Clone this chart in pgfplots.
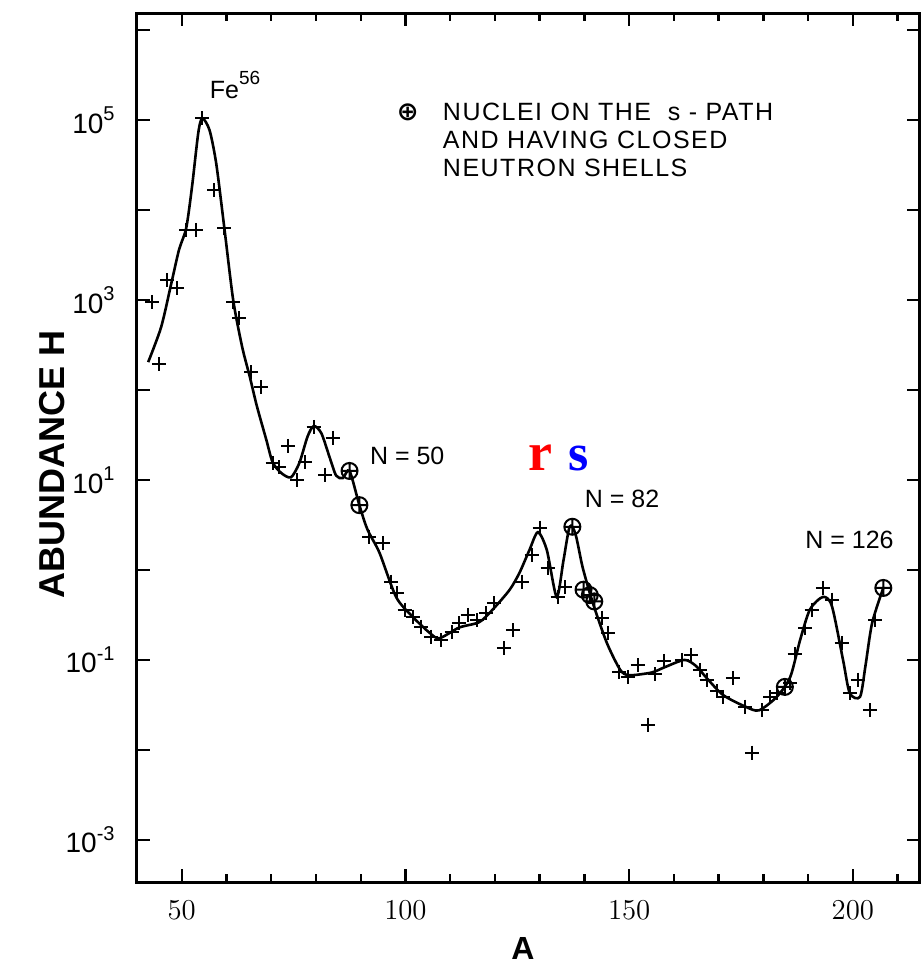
\documentclass[border=0pt]{standalone}
\usepackage{fontspec}
\setmainfont{Liberation Sans}
\newfontfamily\serif{Liberation Serif}
\newfontfamily\draft[LetterSpace=6]{Liberation Sans}
\newfontfamily\djv{DejaVu Sans}
\usepackage{pgfplots}
\pgfplotsset{compat=1.18}
\usetikzlibrary{calc}
% power-of-ten label in the text font
\newcommand\pw[1]{10\raisebox{0.45em}{\fontsize{10}{10}\selectfont #1}}

\begin{document}
\begin{tikzpicture}
\begin{axis}[
  scale only axis, width=391.5pt, height=434.5pt,
  xmin=40, xmax=215,
  ymode=log, ymin=3.4e-4, ymax=1.55e6,
  xtick={50,100,150,200},
  minor xtick={60,70,80,90,110,120,130,140,160,170,180,190,210},
  ytick={1e-3,1e-2,1e-1,1,10,100,1e3,1e4,1e5,1e6},
  yticklabels={\pw{-3},,\pw{-1},,\pw{1},,\pw{3},,\pw{5},},
  yminorticks=false,
  major tick length=6.5pt, minor tick length=4pt,
  every tick/.style={black, line width=1.2pt},
  axis line style={line width=1.5pt},
  ticklabel style={font=\fontsize{14}{14}\selectfont},
  xticklabel style={anchor=center, yshift=-14pt},
  yticklabel style={anchor=east, inner sep=0pt, xshift=-11pt},
  xlabel={A}, ylabel={ABUNDANCE H},
  xlabel style={at={(axis description cs:0.493,-0.076)}, anchor=center, inner sep=0pt,
    font=\bfseries\fontsize{16}{16}\selectfont},
  ylabel style={at={(axis description cs:-0.1086,0.48)}, anchor=center,
    font=\bfseries\fontsize{18}{18}\selectfont},
  clip=false,
]
% abundance curve
\addplot[black, line width=1.3pt, smooth, tension=0.45] coordinates {
(42.5,204) (45.4,501) (47.6,1479) (49.4,3631) (51.0,6310) (52.3,18197)
(53.7,72444) (54.6,104713) (56.2,77625) (57.7,33113) (59.5,6457) (61.5,1000)
(63.5,302) (65.2,141) (66.8,66) (68.9,28) (70.3,15.8) (72.2,12.0)
(74.4,10.7) (76.3,15.5) (78.1,30.2) (79.5,39.8) (81.2,33.1) (83.0,18.2)
(84.5,11.2) (86.0,10.5) (87.5,12.6) (89.7,5.25) (91.5,2.82) (94.2,1.55)
(97.9,0.501) (101.6,0.302) (105.4,0.200) (107.6,0.174) (112.0,0.229)
(116.5,0.263) (119.5,0.363) (123.3,0.603) (125.5,0.933) (127.7,1.66)
(129.6,2.63) (131.6,1.66) (133.8,0.501) (135.3,1.26) (136.7,3.02) (138.0,2.51)
(139.6,1.07) (141.9,0.427) (145.0,0.155) (148.0,0.0776) (150.0,0.0676)
(155.0,0.0724) (158.0,0.0832) (162.4,0.100) (165.0,0.0851) (167.3,0.0631)
(171.0,0.0407) (176.0,0.0302) (179.0,0.0275) (183.0,0.0389) (186.0,0.0646)
(188.2,0.166) (190.4,0.363) (193.3,0.501) (195.3,0.398) (197.8,0.100)
(199.3,0.0427) (201.6,0.0389) (202.8,0.0851) (204.3,0.257) (206.8,0.631)
};
% measured abundances
\addplot[only marks, mark=+, mark size=3.5pt, mark options={line width=1pt}] coordinates {
(43.4,955) (45.0,195) (46.8,1660) (48.9,1349) (51.0,6026) (53.2,6026)
(54.6,104713) (57.3,16596) (59.5,6310) (61.5,955) (62.9,631) (65.5,158)
(67.8,107) (70.3,15.5) (71.8,13.8) (73.8,24.0) (75.8,10.0) (77.6,15.8)
(79.5,38.9) (82.1,11.5) (83.7,29.5) (91.9,2.34) (94.9,2.0) (96.8,0.741)
(98.2,0.550) (99.8,0.363) (101.6,0.302) (103.5,0.234) (105.8,0.182)
(108.0,0.166) (110.3,0.204) (112.0,0.257) (113.9,0.316) (116.1,0.275)
(118.1,0.331) (119.9,0.427) (122.0,0.135) (124.0,0.214) (126.0,0.741)
(128.2,1.48) (130.0,2.95) (131.8,1.05) (134.0,0.501) (135.6,0.646)
(143.9,0.295) (145.2,0.200) (147.7,0.0741) (149.7,0.0646) (151.9,0.0871)
(154.2,0.0191) (155.7,0.0692) (157.7,0.0977) (161.8,0.100) (163.9,0.112)
(165.8,0.0776) (167.3,0.0603) (169.6,0.0447) (171.0,0.0389) (173.2,0.0631)
(175.9,0.0302) (177.4,0.00933) (179.7,0.0275) (181.5,0.0389) (183.0,0.0427)
(185.9,0.0550) (187.0,0.117) (189.3,0.224) (190.8,0.363) (193.3,0.631)
(195.3,0.468) (197.5,0.155) (199.3,0.0427) (201.2,0.0603) (203.8,0.0275)
(205.0,0.275)
};
% s-path nuclei with closed neutron shells
\addplot[only marks, mark=oplus, mark size=4pt, mark options={line width=1pt, fill=white}] coordinates {
(87.5,12.6) (89.7,5.25) (137.3,3.02) (139.8,0.603) (141.2,0.525) (142.2,0.447)
(184.8,0.0501) (206.8,0.631)
};
\node[anchor=base west, inner sep=0pt, font=\fontsize{12.5}{12.5}\selectfont] at (axis cs:56.2,1.74e5)
  {Fe\raisebox{0.55em}{\fontsize{9.5}{9.5}\selectfont 56}};
\node[font=\djv\bfseries\fontsize{13}{13}\selectfont, inner sep=0pt] at (axis cs:100.5,1.23e5) {⊕};
\node[anchor=north west, align=left, inner sep=0pt, font=\draft\fontsize{12.5}{14.2}\selectfont]
  at (axis cs:108.3,1.58e5) {NUCLEI ON THE \ s - PATH\\AND HAVING CLOSED\\NEUTRON SHELLS};
\node[anchor=base west, inner sep=0pt, font=\fontsize{12.5}{12.5}\selectfont] at (axis cs:92,14.8) {N = 50};
\node[anchor=base west, inner sep=0pt, font=\fontsize{12.5}{12.5}\selectfont] at (axis cs:140,4.9) {N = 82};
\node[anchor=base west, inner sep=0pt, font=\fontsize{12.5}{12.5}\selectfont] at (axis cs:189.3,1.74) {N = 126};
\node[anchor=base west, inner sep=0pt, text=red, font=\serif\bfseries\fontsize{27}{27}\selectfont] at (axis cs:127.3,12.9) {r};
\node[anchor=base west, inner sep=0pt, text=blue, font=\serif\bfseries\fontsize{26}{26}\selectfont] at (axis cs:136.3,12.9) {s};
\end{axis}
\pgfresetboundingbox
\path[use as bounding box] ($(current axis.south west)+(-68.5pt,-42pt)$) rectangle ($(current axis.north east)+(2pt,6.5pt)$);
\end{tikzpicture}
\end{document}
